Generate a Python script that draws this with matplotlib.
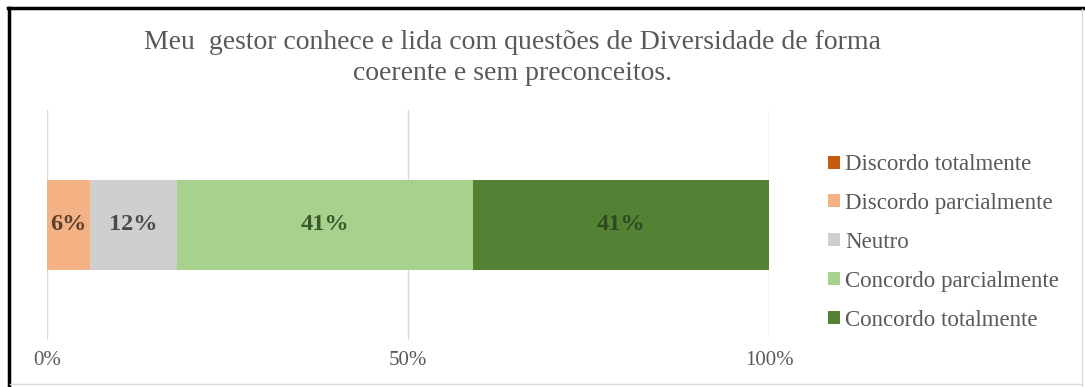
import matplotlib
matplotlib.use("Agg")
import matplotlib.pyplot as plt
from matplotlib.lines import Line2D
from matplotlib.patches import Patch

title = "Meu  gestor conhece e lida com questões de Diversidade de forma\ncoerente e sem preconceitos."
categories = ["Discordo totalmente", "Discordo parcialmente", "Neutro",
              "Concordo parcialmente", "Concordo totalmente"]
values = [0, 6, 12, 41, 41]
tick_values = [0, 50, 100]
tick_labels = ["0%", "50%", "100%"]

colors = ["#C55A11", "#F4B183", "#D0CECE", "#A9D18E", "#548235"]
label_colors = ["#3F3F3F", "#5A4030", "#4A4A4A", "#3B5A2C", "#2E4A22"]

plt.rcParams["font.family"] = ["Liberation Serif", "DejaVu Serif"]

W, H = 1085, 387
fig = plt.figure(figsize=(W / 100, H / 100), dpi=100)
fig.patch.set_facecolor("white")

ax = fig.add_axes([47 / W, 1 - 340 / H, (769 - 47) / W, (340 - 110) / H])
left = 0
for cat, val, col, lc in zip(categories, values, colors, label_colors):
    ax.barh(0, val, left=left, height=1.0, color=col, label=cat, zorder=3)
    if val > 0:
        ax.text(left + val / 2, 0, f"{val}%", ha="center", va="center",
                fontsize=17.5, fontweight="bold", color=lc, zorder=4)
    left += val

ax.set_xlim(0, 100)
ax.set_ylim(-1.278, 1.278)
ax.set_xticks(tick_values)
ax.set_xticklabels(tick_labels)
ax.set_yticks([])
ax.grid(axis="x", color="#D9D9D9", linewidth=1, zorder=0)
for s in ax.spines.values():
    s.set_visible(False)
ax.tick_params(axis="x", length=0, pad=8, labelsize=15, labelcolor="#595959")

fig.text(0.472, 1 - 58 / H, title, ha="center", va="center", fontsize=20,
         color="#595959", linespacing=1.3)

handles = [Patch(facecolor=c, edgecolor="none") for c in colors]
fig.legend(handles, categories, loc="upper left",
           bbox_to_anchor=(819 / W, 1 - 145 / H), frameon=False,
           fontsize=16.5, labelcolor="#595959", handlelength=0.5,
           handleheight=0.5, handletextpad=0.25, labelspacing=0.78,
           borderaxespad=0)

# frame around the chart
fig.add_artist(Line2D([8 / W, 1], [1 - 8 / H, 1 - 8 / H], color="black",
                      linewidth=2.5, transform=fig.transFigure))
fig.add_artist(Line2D([9 / W, 9 / W], [0, 1 - 8 / H], color="black",
                      linewidth=2.5, transform=fig.transFigure))
fig.add_artist(Line2D([1082 / W, 1082 / W], [0, 1 - 9 / H], color="#D9D9D9",
                      linewidth=1, transform=fig.transFigure))
fig.add_artist(Line2D([10 / W, 1082 / W], [1 - 384 / H, 1 - 384 / H],
                      color="#D9D9D9", linewidth=1, transform=fig.transFigure))

fig.savefig("out.png", dpi=100)
